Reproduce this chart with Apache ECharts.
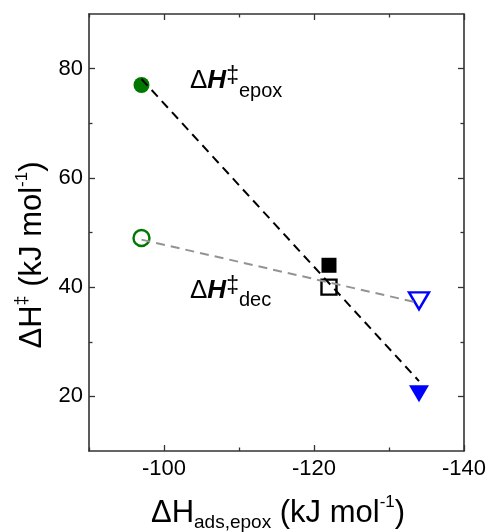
<!DOCTYPE html>
<html>
<head>
<meta charset="utf-8">
<script src="https://cdn.jsdelivr.net/npm/echarts@6/dist/echarts.min.js"></script>
<style>
html,body{margin:0;padding:0;background:#fff;}
#chart{width:489px;height:532px;}
</style>
</head>
<body>
<div id="chart"></div>
<script>
// ---- data ----
const adsorptionEnthalpy = [-97, -122, -134];      // x values, kJ/mol
const epoxBarrier = [77, 44, 20.5];                // filled markers
const decBarrier = [49, 40, 37.5];                 // open markers
const epoxFitX = [-97, -134];
const epoxFitY = [78.1, 22.8];
const decFitX = [-97, -134];
const decFitY = [48.7, 37.1];
const xMajorTicks = [-100, -120, -140];
const xMinorTicks = [-130, -110, -90];
const yMajorTicks = [20, 40, 60, 80];
const yMinorTicks = [30, 50, 70];

// ---- styles ----
const FONT = 'Liberation Sans, Arial, sans-serif';
const markerSymbols = ['circle', 'rect', 'triangle'];
const markerColors = ['#007800', '#000000', '#0000ff'];
const markerSizes = [16, 15, [20, 17]];
const markerRotate = [0, 0, 180];
const AXIS_COLOR = '#333';

const chart = echarts.init(document.getElementById('chart'), null, {renderer: 'canvas'});

function zip(xs, ys) { return xs.map((x, i) => [x, ys[i]]); }

function pointItems(ys, filled) {
  return adsorptionEnthalpy.map((x, i) => ({
    value: [x, ys[i]],
    symbol: markerSymbols[i],
    symbolSize: markerSizes[i],
    symbolRotate: markerRotate[i],
    itemStyle: filled
      ? {color: markerColors[i], borderWidth: 0, opacity: 1}
      : {color: '#ffffff', borderColor: markerColors[i], borderWidth: 2.4, opacity: 1}
  }));
}

function xAx(position, ticks, len, showLine, showLabel) {
  return {
    type: 'value', position: position, min: -140, max: -90, interval: 10, inverse: true,
    axisLine: {show: showLine, onZero: false, lineStyle: {color: AXIS_COLOR, width: 1.6}},
    axisTick: {show: true, inside: true, length: len, customValues: ticks, lineStyle: {color: AXIS_COLOR, width: 1.3}},
    axisLabel: {show: showLabel, customValues: ticks, color: '#000', fontSize: 22, fontFamily: FONT, margin: 7},
    splitLine: {show: false}
  };
}
function yAx(position, ticks, len, showLine, showLabel) {
  return {
    type: 'value', position: position, min: 10, max: 90, interval: 10,
    axisLine: {show: showLine, onZero: false, lineStyle: {color: AXIS_COLOR, width: 1.6}},
    axisTick: {show: true, inside: true, length: len, customValues: ticks, lineStyle: {color: AXIS_COLOR, width: 1.3}},
    axisLabel: {show: showLabel, customValues: ticks, color: '#000', fontSize: 22, fontFamily: FONT, margin: 6},
    splitLine: {show: false}
  };
}

const dashed = [9, 6];

function labelRich(color) {
  return {
    d: {fontSize: 26, fontFamily: FONT, color: color, verticalAlign: 'middle'},
    h: {fontSize: 26, fontFamily: FONT, color: color, fontWeight: 'bold', fontStyle: 'italic', verticalAlign: 'middle'},
    s: {fontSize: 23, fontFamily: FONT, color: color, verticalAlign: 'middle', padding: [0, 0, 8, 0]},
    b: {fontSize: 20, fontFamily: FONT, color: color, verticalAlign: 'middle', padding: [20, 0, 0, 0]}
  };
}

const option = {
  animation: false,
  backgroundColor: '#ffffff',
  grid: {left: 89, top: 14, right: 22, bottom: 81, containLabel: false},
  xAxis: [
    xAx('bottom', xMajorTicks, 6, true, true),
    xAx('bottom', xMinorTicks, 3.5, false, false),
    xAx('top', xMajorTicks, 6, true, false),
    xAx('top', xMinorTicks, 3.5, false, false)
  ],
  yAxis: [
    yAx('left', yMajorTicks, 6, true, true),
    yAx('left', yMinorTicks, 3.5, false, false),
    yAx('right', yMajorTicks, 6, true, false),
    yAx('right', yMinorTicks, 3.5, false, false)
  ],
  series: [
    {type: 'scatter', xAxisIndex: 0, yAxisIndex: 0, data: pointItems(epoxBarrier, true), z: 2},
    {type: 'scatter', xAxisIndex: 0, yAxisIndex: 0, data: pointItems(decBarrier, false), z: 2},
    {type: 'line', xAxisIndex: 0, yAxisIndex: 0, data: zip(epoxFitX, epoxFitY), symbol: 'none', z: 5,
     lineStyle: {color: '#000', width: 2, type: dashed}},
    {type: 'line', xAxisIndex: 0, yAxisIndex: 0, data: zip(decFitX, decFitY), symbol: 'none', z: 5,
     lineStyle: {color: '#939393', width: 2, type: dashed}}
  ],
  graphic: [
    {
      type: 'text', x: 190, y: 81, z: 10,
      style: {text: '{d|Δ}{h|H}{s|‡}{b|epox}', align: 'left', verticalAlign: 'middle', rich: labelRich('#000')}
    },
    {
      type: 'text', x: 190, y: 290.5, z: 10,
      style: {text: '{d|Δ}{h|H}{s|‡}{b|dec}', align: 'left', verticalAlign: 'middle', rich: labelRich('#9a9a9a')}
    },
    {
      type: 'text', x: 278, y: 513, z: 10,
      style: {
        text: '{m|ΔH}{b|ads,epox}{m| (kJ mol}{p|-1}{m|)}', align: 'center', verticalAlign: 'middle',
        rich: {
          m: {fontSize: 31, fontFamily: FONT, color: '#000', lineHeight: 38, verticalAlign: 'middle'},
          b: {fontSize: 19, fontFamily: FONT, color: '#000', lineHeight: 23, verticalAlign: 'bottom'},
          p: {fontSize: 17, fontFamily: FONT, color: '#000', lineHeight: 12, verticalAlign: 'top'}
        }
      }
    },
    {
      type: 'text', x: 32.5, y: 255, rotation: Math.PI / 2, z: 10,
      style: {
        text: '{m|ΔH}{s|‡}{m| (kJ mol}{p|-1}{m|)}', align: 'center', verticalAlign: 'middle',
        rich: {
          m: {fontSize: 31, fontFamily: FONT, color: '#000', lineHeight: 38, verticalAlign: 'middle'},
          s: {fontSize: 18, fontFamily: FONT, color: '#000', lineHeight: 16, verticalAlign: 'top'},
          p: {fontSize: 17, fontFamily: FONT, color: '#000', lineHeight: 11, verticalAlign: 'top'}
        }
      }
    }
  ]
};
chart.setOption(option);
</script>
</body>
</html>
